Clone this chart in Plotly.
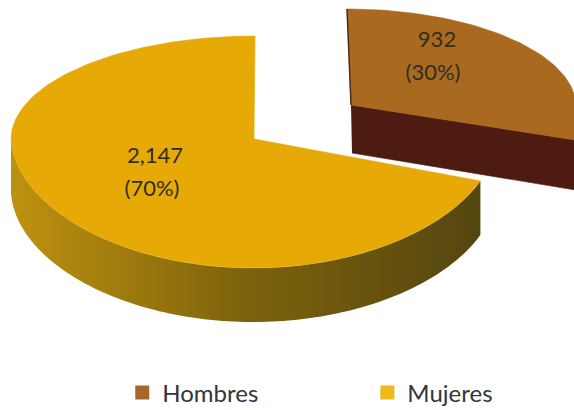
import numpy as np
import plotly.graph_objects as go

categories = ["Hombres", "Mujeres"]
values = [932, 2147]

TOP = {"Hombres": "#A9691F", "Mujeres": "#E6A905"}
LEGEND = {"Hombres": "#A5682A", "Mujeres": "#EDBB18"}
SIDE_FACE = "#4E1B12"
SIDE_SCALE = [[0.0, "rgb(190,146,16)"], [0.5, "rgb(125,98,12)"], [1.0, "rgb(85,70,16)"]]

total = sum(values)
sweeps = [v / total * 2 * np.pi for v in values]
start_h, end_h = 0.0, sweeps[0]
start_m, end_m = sweeps[0], 2 * np.pi


def rim(t, cx, cy, a, k, bb, bf, skew):
    c = np.cos(t)
    s = np.sin(t)
    width = a + k * np.clip(-c, 0, None)
    x = cx + width * s + skew * c
    y = cy - np.where(c >= 0, bb, bf) * c
    return x, y


H = dict(cx=351, cy=105, a=225, k=48, bb=96, bf=110, skew=-4)
M = dict(cx=254, cy=139, a=243, k=-10, bb=103, bf=129, skew=1)
H_DEPTH_LEFT, H_DEPTH_RIGHT, M_DEPTH = 48, 50, 54

fig = go.Figure()


def poly(x, y, color):
    fig.add_trace(go.Scatter(x=x, y=y, mode="lines", fill="toself", fillcolor=color,
                             line=dict(color=color, width=0.6), hoverinfo="skip",
                             showlegend=False))


# Hombres: cut face, then top
tt = np.linspace(start_h, end_h, 80)
ex, ey = rim(np.array([end_h]), **H)
poly([H["cx"], ex[0], ex[0], H["cx"] + 1],
     [H["cy"], ey[0], ey[0] + H_DEPTH_RIGHT, H["cy"] + H_DEPTH_LEFT], SIDE_FACE)
rx, ry = rim(tt, **H)
poly([H["cx"], *rx, H["cx"]], [H["cy"], *ry, H["cy"]], TOP["Hombres"])
sx, sy = rim(np.array([start_h]), **H)
fig.add_trace(go.Scatter(x=[sx[0], H["cx"]], y=[sy[0], H["cy"]], mode="lines",
                         line=dict(color="#4A2A14", width=1.4), hoverinfo="skip", showlegend=False))

# Mujeres: rim side with a horizontal gradient, then top
t = np.linspace(start_m, 1.5 * np.pi, 120)
x, y = rim(t, **M)
fig.add_trace(go.Scatter(x=[*x, *x[::-1]], y=[*y, *(y[::-1] + M_DEPTH)], mode="none", fill="toself",
                         fillgradient=dict(type="horizontal", colorscale=SIDE_SCALE),
                         hoverinfo="skip", showlegend=False))
tt = np.linspace(start_m, end_m, 160)
rx, ry = rim(tt, **M)
poly([M["cx"], *rx, M["cx"]], [M["cy"], *ry, M["cy"]], TOP["Mujeres"])

# Value labels
labels = [(f"{v:,}", f"({round(v / total * 100)}%)") for v in values]
LABEL_POS = {"Hombres": ((437, 41), (433, 74)), "Mujeres": ((155, 157), (152, 190))}
for cat, (first, second) in zip(categories, labels):
    p1, p2 = LABEL_POS[cat]
    fig.add_trace(go.Scatter(x=[p1[0], p2[0]], y=[p1[1], p2[1]], mode="text", text=[first, second],
                             textposition="middle center",
                             textfont=dict(family="Lato, Carlito, sans-serif", size=22, color="#2F2D25"),
                             hoverinfo="skip", showlegend=False))

# Legend entries, one legend each so that they can sit wide apart
LEGEND_IDS = {"Hombres": "legend", "Mujeres": "legend2"}
for cat in categories:
    fig.add_trace(go.Scatter(x=[None], y=[None], mode="markers", name=cat, legend=LEGEND_IDS[cat],
                             marker=dict(symbol="square", size=14, color=LEGEND[cat])))

legend_font = dict(family="Lato, Carlito, sans-serif", size=24, color="#33363A")
common = dict(orientation="h", y=0.0415, xanchor="left", yanchor="middle",
              bgcolor="rgba(0,0,0,0)", font=legend_font)
fig.update_layout(
    width=574, height=410, margin=dict(l=0, r=0, t=0, b=0, autoexpand=False),
    paper_bgcolor="white", plot_bgcolor="white",
    xaxis=dict(range=[0, 574], visible=False, fixedrange=True),
    yaxis=dict(range=[410, 0], visible=False, fixedrange=True),
    legend=dict(x=0.213, **common),
    legend2=dict(x=0.64, **common),
)

fig.write_html("out.html", config={"displayModeBar": False},
               post_script="document.body.style.margin='0';")
